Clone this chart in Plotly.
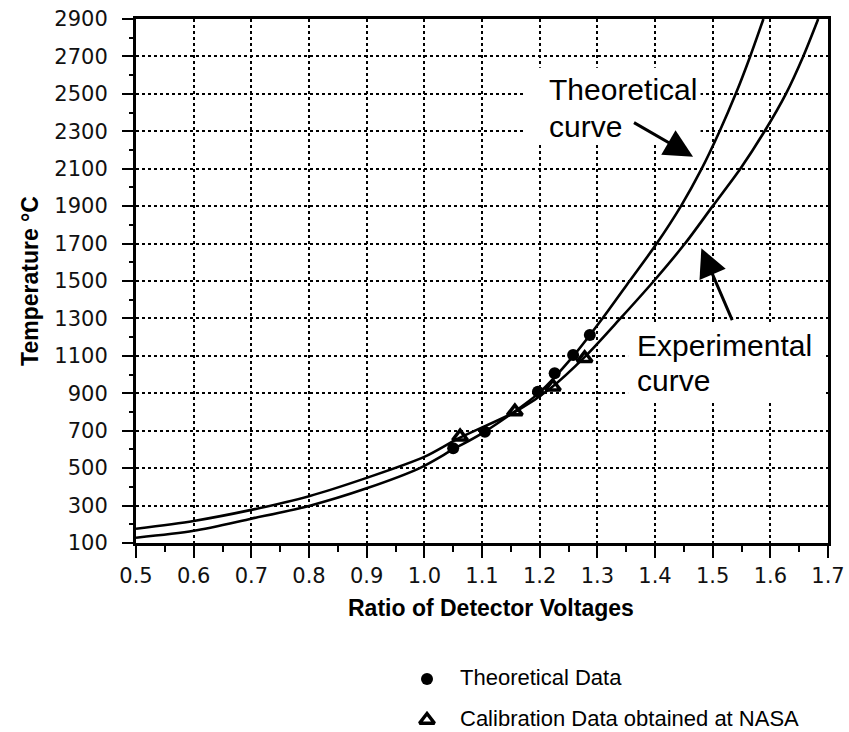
import plotly.graph_objects as go

# Calibration curves: temperature vs ratio of detector voltages
theo_ratio = [0.5, 0.6, 0.7, 0.8, 0.9, 0.992, 1.05, 1.105, 1.2, 1.26, 1.309,
              1.356, 1.403, 1.445, 1.481, 1.512, 1.540, 1.565, 1.588]
theo_temp = [128, 165, 230, 298, 392, 500, 600, 695, 905, 1105, 1300,
             1500, 1700, 1900, 2100, 2300, 2500, 2700, 2900]

exp_ratio = [0.5, 0.6, 0.7, 0.8, 0.9, 1.0, 1.06, 1.16, 1.22, 1.28,
             1.34, 1.398, 1.452, 1.50, 1.548, 1.59, 1.627, 1.657, 1.683]
exp_temp = [176, 218, 277, 350, 448, 560, 660, 805, 930, 1100,
            1300, 1500, 1700, 1900, 2100, 2300, 2500, 2700, 2900]

# Point data
theo_data_ratio = [1.05, 1.105, 1.197, 1.226, 1.258, 1.287]
theo_data_temp = [606, 695, 908, 1007, 1105, 1211]

nasa_ratio = [1.062, 1.157, 1.223, 1.278]
nasa_temp = [668, 802, 935, 1087]

x_ticks = [0.5, 0.6, 0.7, 0.8, 0.9, 1.0, 1.1, 1.2, 1.3, 1.4, 1.5, 1.6, 1.7]
y_ticks = list(range(100, 3000, 200))

TXT = "Liberation Sans, Arial, Helvetica, sans-serif"
TICK = "DejaVu Sans, sans-serif"

CIRCLE = dict(symbol="circle", size=12, color="black")
TRIANGLE = dict(symbol="triangle-up-open", size=13, color="black",
                line=dict(width=3.5, color="black"))

fig = go.Figure()

fig.add_trace(go.Scatter(x=theo_ratio, y=theo_temp, mode="lines",
                         line=dict(color="black", width=2.6, shape="spline", smoothing=0.8),
                         hoverinfo="skip"))
fig.add_trace(go.Scatter(x=exp_ratio, y=exp_temp, mode="lines",
                         line=dict(color="black", width=2.6, shape="spline", smoothing=0.8),
                         hoverinfo="skip"))
fig.add_trace(go.Scatter(x=theo_data_ratio, y=theo_data_temp, mode="markers",
                         name="Theoretical Data", marker=CIRCLE))
fig.add_trace(go.Scatter(x=nasa_ratio, y=nasa_temp, mode="markers",
                         name="Calibration Data obtained at NASA", marker=TRIANGLE))

# Key below the chart, drawn on a hidden pixel-scaled axis pair
key_rows = [("Theoretical Data", CIRCLE, 53), ("Calibration Data obtained at NASA", TRIANGLE, 12)]
for name, marker, row_y in key_rows:
    fig.add_trace(go.Scatter(x=[291], y=[row_y], mode="markers", marker=marker,
                             xaxis="x2", yaxis="y2", hoverinfo="skip"))
    fig.add_annotation(x=322, y=row_y + 2, xref="x2", yref="y2", text=name,
                       showarrow=False, xanchor="left", yanchor="middle",
                       font=dict(family=TXT, size=22, color="black"))

# White label panels over the grid
for x0, x1, y0, y1 in [(1.174, 1.479, 2243, 2640), (1.3533, 1.6913, 853, 1265)]:
    fig.add_shape(type="rect", xref="x", yref="y", x0=x0, x1=x1, y0=y0, y1=y1,
                  fillcolor="white", line=dict(width=0), layer="between")

labels = [("Theoretical", 1.2127, 2521), ("curve", 1.2127, 2328),
          ("Experimental", 1.3653, 1158), ("curve", 1.3653, 966)]
for txt, x, y in labels:
    fig.add_annotation(x=x, y=y, text=txt, showarrow=False, xanchor="left",
                       yanchor="middle", font=dict(family=TXT, size=30, color="black"))

# Arrows pointing at the curves
arrows = [(1.466, 2164, 1.361, 2351), (1.4804, 1675, 1.535, 1283)]
for x, y, ax, ay in arrows:
    fig.add_annotation(x=x, y=y, ax=ax, ay=ay, xref="x", yref="y", axref="x", ayref="y",
                       text="", showarrow=True, arrowhead=2, arrowsize=1.9,
                       arrowwidth=3, arrowcolor="black")

# x-axis title, set slightly right of the plot centre
fig.add_annotation(x=0.513, y=0.1739, xref="paper", yref="paper",
                   text="Ratio of Detector Voltages", showarrow=False,
                   xanchor="center", yanchor="middle",
                   font=dict(family=TXT, size=23, color="black", weight="bold"))

fig.update_layout(
    xaxis=dict(range=[0.5, 1.7], domain=[0, 1], anchor="y", tickvals=x_ticks,
               ticktext=[f"{v:.1f}" for v in x_ticks],
               ticks="outside", ticklen=12, tickwidth=2, tickcolor="black",
               minor=dict(dtick=0.05, tick0=0.5, ticks="outside", ticklen=6,
                          tickwidth=2, tickcolor="black", showgrid=False),
               showline=True, linewidth=3, linecolor="black", mirror=True,
               showgrid=True, gridcolor="black", gridwidth=1.5, griddash="dot",
               zeroline=False, automargin=False,
               tickfont=dict(family=TICK, size=21, color="#111")),
    yaxis=dict(range=[100, 2900], domain=[0.26508, 1], anchor="x", tickvals=y_ticks,
               ticks="outside", ticklen=11, tickwidth=2, tickcolor="black",
               minor=dict(dtick=100, tick0=0, ticks="outside", ticklen=4,
                          tickwidth=2, tickcolor="black", showgrid=False),
               showline=True, linewidth=3, linecolor="black", mirror=True,
               showgrid=True, gridcolor="black", gridwidth=1.5, griddash="dot",
               zeroline=False, ticklabelstandoff=10, automargin=False,
               tickfont=dict(family=TICK, size=21, color="#111"),
               title=dict(text="Temperature °C", standoff=10,
                          font=dict(family=TXT, size=23, color="black", weight="bold"))),
    xaxis2=dict(range=[0, 692], domain=[0, 1], anchor="y2", visible=False,
                fixedrange=True),
    yaxis2=dict(range=[0, 142.6], domain=[0, 0.2], anchor="x2", visible=False,
                fixedrange=True),
    width=849, height=732,
    margin=dict(l=136, r=21, t=19, b=0, autoexpand=False),
    paper_bgcolor="white", plot_bgcolor="white",
    showlegend=False,
)

fig.write_html("out.html")
